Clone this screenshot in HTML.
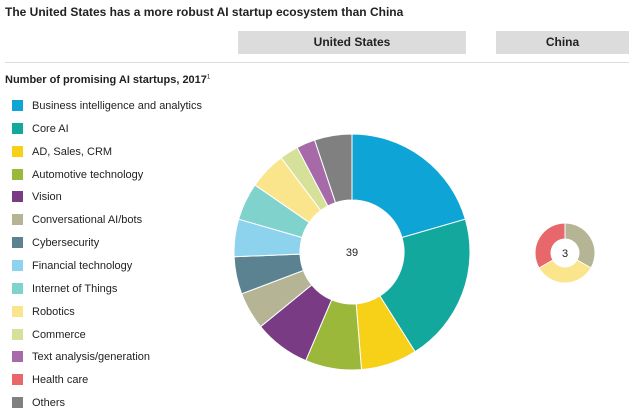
<!DOCTYPE html>
<html><head><meta charset="utf-8"><style>
body{margin:0;width:640px;height:414px;background:#fff;font-family:"Liberation Sans",sans-serif;color:#222;position:relative;overflow:hidden}
.a{position:absolute}
.hd{background:#dcdcdc;font-weight:bold;font-size:12px;text-align:center;line-height:23px;top:31px;height:23px}
.lg{position:absolute;left:12px;font-size:11px;line-height:12px}
.lg i{position:absolute;left:0;top:0;width:11px;height:11px}
.lg span{position:absolute;left:20px;top:0;white-space:nowrap}
</style></head><body>
<div class="a" style="left:5px;top:5px;font-size:12px;font-weight:bold">The United States has a more robust AI startup ecosystem than China</div>
<div class="a hd" style="left:238px;width:228px">United States</div>
<div class="a hd" style="left:496px;width:133px">China</div>
<div class="a" style="left:5px;top:62px;width:624px;height:1px;background:#ddd"></div>
<div class="a" style="left:5px;top:74px;font-size:11px;font-weight:bold">Number of promising AI startups, 2017<sup style="font-size:6px;font-weight:normal">1</sup></div>
<div id="lg"></div>
<svg class="a" style="left:0;top:0" width="640" height="414" id="s"></svg>
<script>
var names=["Business intelligence and analytics","Core AI","AD, Sales, CRM","Automotive technology","Vision","Conversational AI/bots","Cybersecurity","Financial technology","Internet of Things","Robotics","Commerce","Text analysis/generation","Health care","Others"];
var cols=["#0ea5d6","#13a89e","#f7d117","#9bb83a","#7a3b85","#b5b596","#5b8290","#8dd3ee","#7fd3cc","#fbe58c","#d5e098","#a66aa8","#e8676b","#808080"];
var lg="";for(var i=0;i<14;i++){lg+='<div class="lg" style="top:'+(100+i*22.85)+'px"><i style="background:'+cols[i]+'"></i><span>'+names[i]+'</span></div>';}
document.getElementById("lg").innerHTML=lg;
function donut(cx,cy,R,r,vals,cs,label){var t=vals.reduce(function(a,b){return a+b},0),a=0,h="";
for(var i=0;i<vals.length;i++){if(!vals[i])continue;var b=a+vals[i]/t*2*Math.PI;
function p(rr,an){return (cx+rr*Math.sin(an)).toFixed(2)+","+(cy-rr*Math.cos(an)).toFixed(2)}
var lf=(b-a)>Math.PI?1:0;
h+='<path d="M'+p(R,a)+'A'+R+','+R+' 0 '+lf+' 1 '+p(R,b)+'L'+p(r,b)+'A'+r+','+r+' 0 '+lf+' 0 '+p(r,a)+'Z" fill="'+cs[i]+'" stroke="#fff" stroke-width="1"/>';a=b;}
h+='<text x="'+cx+'" y="'+(cy+4)+'" font-size="11" text-anchor="middle" fill="#222" font-family="Liberation Sans">'+label+'</text>';return h;}
var s=donut(352,252,118,52,[8,8,3,3,3,2,2,2,2,2,1,1,0,2],cols,"39");
s+=donut(565,253,30,14,[1,1,1],["#b5b596","#fbe58c","#e8676b"],"3");
document.getElementById("s").innerHTML=s;
</script>
</body></html>
